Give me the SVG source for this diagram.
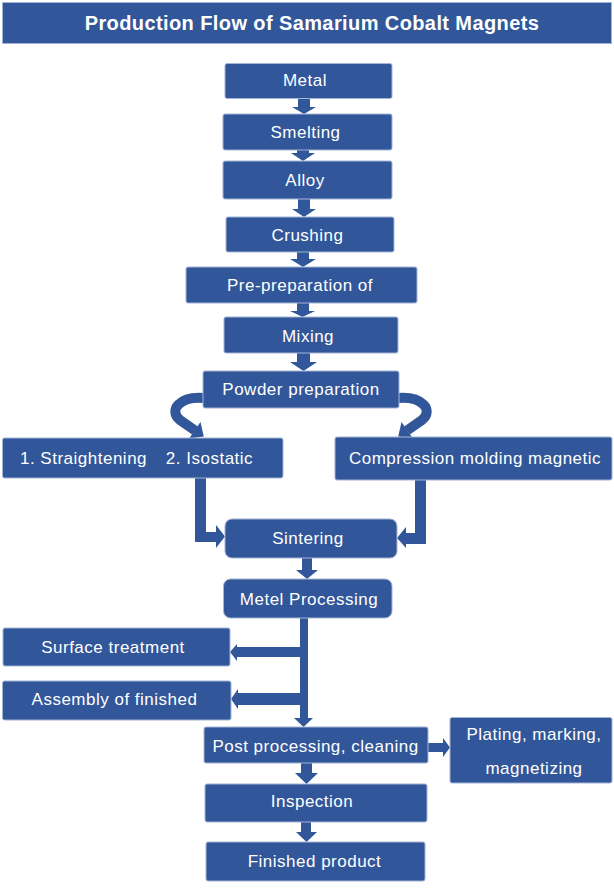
<svg xmlns="http://www.w3.org/2000/svg" width="614" height="896" viewBox="0 0 614 896">
<style>
.box{fill:#31569A;stroke:#a3b4d6;stroke-width:1}
.lbl{font-family:"Liberation Sans",Arial,sans-serif;font-size:17px;fill:#ffffff;text-anchor:middle;letter-spacing:0.5px}
.ttl{font-family:"Liberation Sans",Arial,sans-serif;font-size:20px;font-weight:bold;fill:#ffffff;text-anchor:middle;letter-spacing:0.4px}
.conn{fill:#31569A}
.curve{fill:none;stroke:#31569A;stroke-width:10}
</style>
<rect width="614" height="896" fill="#ffffff"/>
<g id="title">
<rect class="box" x="2.5" y="2.5" width="609" height="41"/>
<text class="ttl" x="312" y="30">Production Flow of Samarium Cobalt Magnets</text>
</g>
<g id="connectors">
<polygon class="conn" points="298,98 310,98 310,107 316,107 304,114 292,107 298,107"/>
<polygon class="conn" points="297,150 309,150 309,153 315,153 303,161 291,153 297,153"/>
<polygon class="conn" points="298,199 310,199 310,209 316,209 304,217 292,209 298,209"/>
<polygon class="conn" points="297,252 309,252 309,259 316,259 303,267 290,259 297,259"/>
<polygon class="conn" points="297,303 309,303 309,311 315,311 302.5,317 290,311 297,311"/>
<polygon class="conn" points="297,353 310,353 310,362 317,362 303.5,371 290,362 297,362"/>
<path class="curve" d="M204,398 C180,396 168,410 180,420 L195,430.5"/>
<polygon class="conn" points="203.8,436.6 189.1,438.5 200.5,422.1"/>
<path class="curve" d="M398,398 C422,396 434,410 422,420 L407,430.5"/>
<polygon class="conn" points="398.2,436.6 412.9,438.5 401.5,422.1"/>
<polygon class="conn" points="195,478 206,478 206,532 216,532 216,525 225,536.5 216,548 216,542 195,542"/>
<polygon class="conn" points="415,480 426,480 426,544 406,544 406,548 397,538 406,527 406,533 415,533"/>
<polygon class="conn" points="302,558 312,558 312,570 318,570 307,579 296,570 302,570"/>
<polygon class="conn" points="300,618 308,618 308,718 313,718 303.5,727 294,718 300,718"/>
<polygon class="conn" points="300,647 300,657 237,657 237,661 230,652 237,644 237,647"/>
<polygon class="conn" points="300,693 300,705 238,705 238,709 231,699 238,689 238,693"/>
<polygon class="conn" points="428,743 443,743 443,738 450,747.5 443,757 443,752 428,752"/>
<polygon class="conn" points="301,763 312,763 312,773 318,773 306.5,784 295,773 301,773"/>
<polygon class="conn" points="301,822 311,822 311,832 317,832 306.5,842 296,832 301,832"/>
</g>
<g id="metal"><rect class="box" x="225" y="63.5" width="167" height="35" rx="2"/><text class="lbl" x="305" y="86">Metal</text></g>
<g id="smelting"><rect class="box" x="223" y="114" width="169" height="36" rx="2"/><text class="lbl" x="305.5" y="138">Smelting</text></g>
<g id="alloy"><rect class="box" x="223" y="161" width="169" height="38" rx="2"/><text class="lbl" x="305" y="186">Alloy</text></g>
<g id="crushing"><rect class="box" x="226" y="217" width="168" height="35" rx="2"/><text class="lbl" x="307.5" y="241">Crushing</text></g>
<g id="prepreparation"><rect class="box" x="186" y="267" width="231" height="36" rx="2"/><text class="lbl" x="300" y="291">Pre-preparation of</text></g>
<g id="mixing"><rect class="box" x="224" y="317" width="174" height="36" rx="2"/><text class="lbl" x="308" y="342">Mixing</text></g>
<g id="powder"><rect class="box" x="203" y="371" width="196" height="37" rx="2"/><text class="lbl" x="301" y="395">Powder preparation</text></g>
<g id="straightening"><rect class="box" x="2.5" y="438" width="280.5" height="40" rx="2"/><text class="lbl" x="83.5" y="464">1. Straightening</text><text class="lbl" x="209.5" y="464">2. Isostatic</text></g>
<g id="compression"><rect class="box" x="335" y="437" width="277" height="43" rx="2"/><text class="lbl" x="475" y="464">Compression molding magnetic</text></g>
<g id="sintering"><rect class="box" x="225" y="519" width="172" height="39" rx="7"/><text class="lbl" x="308" y="544">Sintering</text></g>
<g id="metelprocessing"><rect class="box" x="223.5" y="579" width="168.5" height="39" rx="7"/><text class="lbl" x="309" y="605">Metel Processing</text></g>
<g id="surface"><rect class="box" x="3" y="628" width="227" height="38" rx="2"/><text class="lbl" x="113" y="653">Surface treatment</text></g>
<g id="assembly"><rect class="box" x="2.5" y="681" width="228.5" height="39" rx="2"/><text class="lbl" x="114.5" y="705">Assembly of finished</text></g>
<g id="postprocessing"><rect class="box" x="204" y="727" width="224" height="36" rx="2"/><text class="lbl" x="315.5" y="752">Post processing, cleaning</text></g>
<g id="plating"><rect class="box" x="450" y="717.5" width="162" height="65.5" rx="2"/><text class="lbl" x="534" y="740">Plating, marking,</text><text class="lbl" x="534" y="774">magnetizing</text></g>
<g id="inspection"><rect class="box" x="205" y="784" width="222" height="38" rx="2"/><text class="lbl" x="312" y="807">Inspection</text></g>
<g id="finished"><rect class="box" x="206" y="842" width="219" height="39" rx="2"/><text class="lbl" x="314.5" y="867">Finished product</text></g>
</svg>
